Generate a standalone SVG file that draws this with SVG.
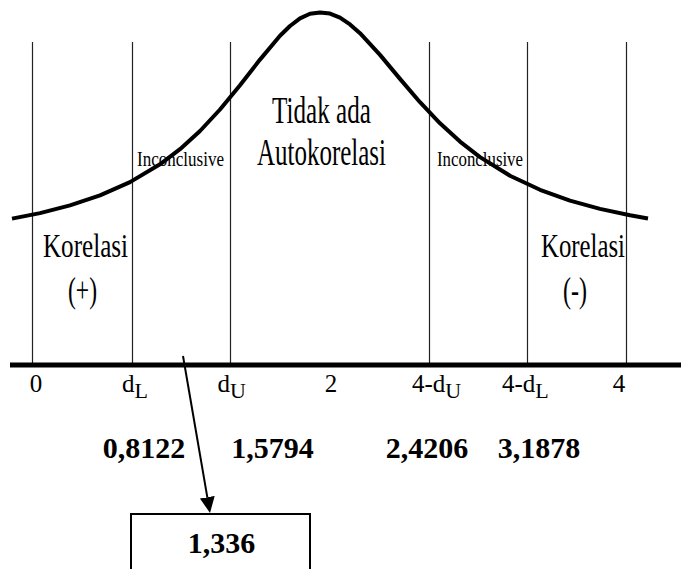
<svg xmlns="http://www.w3.org/2000/svg" width="681" height="569" viewBox="0 0 681 569">
<defs>
<style>
.vl{stroke:#222;stroke-width:1.2;fill:none}
.ser{font-family:"Liberation Serif","Times New Roman",serif;fill:#000}
.big{font-size:37px}
.kor{font-size:33px}
.par{font-size:36px}
.inc{font-size:22px}
.ax{font-size:25px}
.sub{font-size:22px}
.num{font-size:30px;font-weight:bold}
</style>
<marker id="ah" markerUnits="userSpaceOnUse" markerWidth="16" markerHeight="16" refX="0" refY="7.5" orient="auto">
<path d="M0,0 L16,7.5 L0,15 z" fill="#000"/>
</marker>
</defs>
<rect width="681" height="569" fill="#fff"/>
<g id="gridlines">
<line class="vl" x1="32.5" y1="42" x2="32.5" y2="365"/>
<line class="vl" x1="132.5" y1="42" x2="132.5" y2="365"/>
<line class="vl" x1="230.5" y1="42" x2="230.5" y2="365"/>
<line class="vl" x1="429.5" y1="42" x2="429.5" y2="365"/>
<line class="vl" x1="527.5" y1="42" x2="527.5" y2="365"/>
<line class="vl" x1="626.5" y1="42" x2="626.5" y2="365"/>
</g>
<g id="region-labels">
<text class="ser big" x="272" y="123" textLength="99" lengthAdjust="spacingAndGlyphs">Tidak ada</text>
<text class="ser big" x="257" y="165" textLength="129" lengthAdjust="spacingAndGlyphs">Autokorelasi</text>
<text class="ser inc" x="137" y="166" textLength="87" lengthAdjust="spacingAndGlyphs">Inconclusive</text>
<text class="ser inc" x="437" y="166" textLength="86" lengthAdjust="spacingAndGlyphs">Inconclusive</text>
<text class="ser kor" x="43" y="257" textLength="85" lengthAdjust="spacingAndGlyphs">Korelasi</text>
<text class="ser par" x="68" y="302" textLength="29" lengthAdjust="spacingAndGlyphs">(+)</text>
<text class="ser kor" x="541" y="257" textLength="84" lengthAdjust="spacingAndGlyphs">Korelasi</text>
<text class="ser par" x="563" y="302" textLength="24" lengthAdjust="spacingAndGlyphs">(-)</text>
</g>
<g id="curve">
<polyline fill="none" stroke="#000" stroke-width="4" stroke-linejoin="round" stroke-linecap="butt" points="12,218.6 40,213.1 70,205.4 100,195.4 130,182.1 160,164.3 180,149.2 200,131 220,109.5 240,85.2 260,59.6 280,35.8 290,26 300,18.4 310,13.8 320,12.5 330,13.6 340,17.7 350,24.4 360,33.2 380,54.9 400,78.9 420,102.2 440,123.3 460,141.6 480,157.1 510,175.7 540,189.8 570,200.6 600,208.9 630,215.3 648,218.5"/>
</g>
<g id="axis">
<line x1="10" y1="365" x2="681" y2="365" stroke="#000" stroke-width="5"/>
<text class="ser ax" x="36" y="392" text-anchor="middle">0</text>
<text class="ser ax" x="122" y="392">d<tspan class="sub" dy="6">L</tspan></text>
<text class="ser ax" x="217.5" y="392">d<tspan class="sub" dy="6">U</tspan></text>
<text class="ser ax" x="331" y="392" text-anchor="middle">2</text>
<text class="ser ax" x="412" y="392">4-d<tspan class="sub" dy="6">U</tspan></text>
<text class="ser ax" x="502" y="392">4-d<tspan class="sub" dy="6">L</tspan></text>
<text class="ser ax" x="619" y="392" text-anchor="middle">4</text>
</g>
<g id="values">
<text class="ser num" x="144" y="458" text-anchor="middle">0,8122</text>
<text class="ser num" x="272.5" y="458" text-anchor="middle">1,5794</text>
<text class="ser num" x="427" y="458" text-anchor="middle">2,4206</text>
<text class="ser num" x="539" y="458" text-anchor="middle">3,1878</text>
</g>
<g id="connectors">
<line x1="183" y1="356" x2="207.3" y2="497.2" stroke="#000" stroke-width="2" marker-end="url(#ah)"/>
</g>
<g id="result-box">
<rect x="131" y="514" width="179" height="80" fill="#fff" stroke="#000" stroke-width="2"/>
<text class="ser num" x="221.5" y="553" text-anchor="middle">1,336</text>
</g>
</svg>
